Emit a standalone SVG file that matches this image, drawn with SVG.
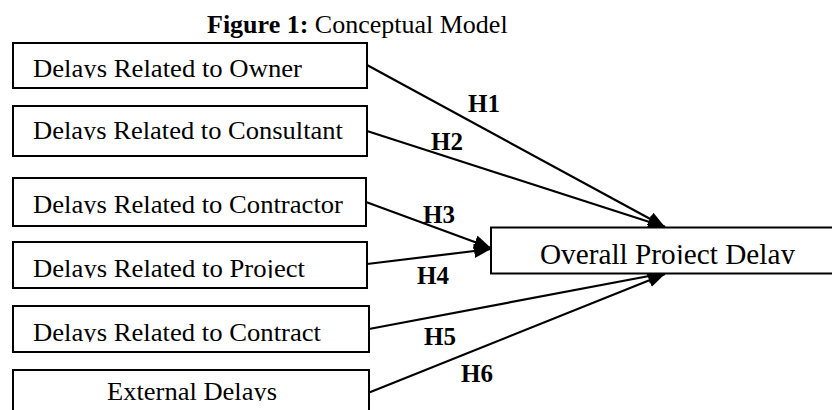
<svg xmlns="http://www.w3.org/2000/svg" width="832" height="410" viewBox="0 0 832 410">
<style>
.box{fill:#fff;stroke:#000;stroke-width:2}
.t{font-family:"Liberation Serif","Times New Roman",serif;font-size:26px;fill:#000}
.h{font-family:"Liberation Serif","Times New Roman",serif;font-size:25px;font-weight:bold;fill:#000}
.c{stroke:#000;stroke-width:2.2;fill:none;marker-end:url(#ah)}
</style>
<defs>
<marker id="ah" markerUnits="userSpaceOnUse" markerWidth="18" markerHeight="14" refX="17" refY="7" orient="auto">
<path d="M0,0 L17,7 L0,14 z" fill="#000"/>
</marker>
<clipPath id="c1"><rect x="0" y="0" width="832" height="78"/></clipPath>
<clipPath id="c2"><rect x="0" y="100" width="832" height="40"/></clipPath>
<clipPath id="c3"><rect x="0" y="175" width="832" height="39"/></clipPath>
<clipPath id="c4"><rect x="0" y="240" width="832" height="38"/></clipPath>
<clipPath id="c5"><rect x="0" y="300" width="832" height="42"/></clipPath>
<clipPath id="c6"><rect x="0" y="365" width="832" height="36"/></clipPath>
<clipPath id="c7"><rect x="0" y="228" width="832" height="36"/></clipPath>
</defs>
<g id="title">
<text x="207" y="32.5" font-family="Liberation Serif, serif" font-size="26" fill="#000"><tspan font-weight="bold">Figure 1:</tspan> Conceptual Model</text>
</g>
<g id="connectors">
<line class="c" x1="367" y1="65" x2="665" y2="227"/>
<line class="c" x1="367" y1="131" x2="665" y2="227"/>
<line class="c" x1="366" y1="202" x2="491" y2="248"/>
<line class="c" x1="367" y1="264" x2="491" y2="249"/>
<line class="c" x1="369" y1="329" x2="665" y2="273"/>
<line class="c" x1="368" y1="393" x2="665" y2="274"/>
<text class="h" x="468" y="111.5">H1</text>
<text class="h" x="431" y="150">H2</text>
<text class="h" x="423" y="222.5">H3</text>
<text class="h" x="417" y="284">H4</text>
<text class="h" x="424" y="345">H5</text>
<text class="h" x="461" y="382">H6</text>
</g>
<g id="owner">
<rect class="box" x="13" y="43" width="354" height="45"/>
<text class="t" x="33" y="77" textLength="269" lengthAdjust="spacingAndGlyphs" clip-path="url(#c1)">Delays Related to Owner</text>
</g>
<g id="consultant">
<rect class="box" x="13" y="106" width="354" height="50"/>
<text class="t" x="33" y="139" textLength="310" lengthAdjust="spacingAndGlyphs" clip-path="url(#c2)">Delays Related to Consultant</text>
</g>
<g id="contractor">
<rect class="box" x="13" y="178" width="353" height="48"/>
<text class="t" x="33" y="213" textLength="310" lengthAdjust="spacingAndGlyphs" clip-path="url(#c3)">Delays Related to Contractor</text>
</g>
<g id="project">
<rect class="box" x="13" y="242" width="354" height="46"/>
<text class="t" x="33" y="277" textLength="272" lengthAdjust="spacingAndGlyphs" clip-path="url(#c4)">Delays Related to Project</text>
</g>
<g id="contract">
<rect class="box" x="13" y="306" width="356" height="46"/>
<text class="t" x="33" y="341" textLength="288" lengthAdjust="spacingAndGlyphs" clip-path="url(#c5)">Delays Related to Contract</text>
</g>
<g id="external">
<rect class="box" x="13" y="370" width="356" height="46"/>
<text class="t" x="107" y="400" textLength="170" lengthAdjust="spacingAndGlyphs" clip-path="url(#c6)">External Delays</text>
</g>
<g id="overall">
<rect class="box" x="491" y="227.5" width="360" height="46"/>
<text class="t" x="540" y="263.5" style="font-size:28.5px" textLength="255" lengthAdjust="spacingAndGlyphs" clip-path="url(#c7)">Overall Project Delay</text>
</g>
</svg>
